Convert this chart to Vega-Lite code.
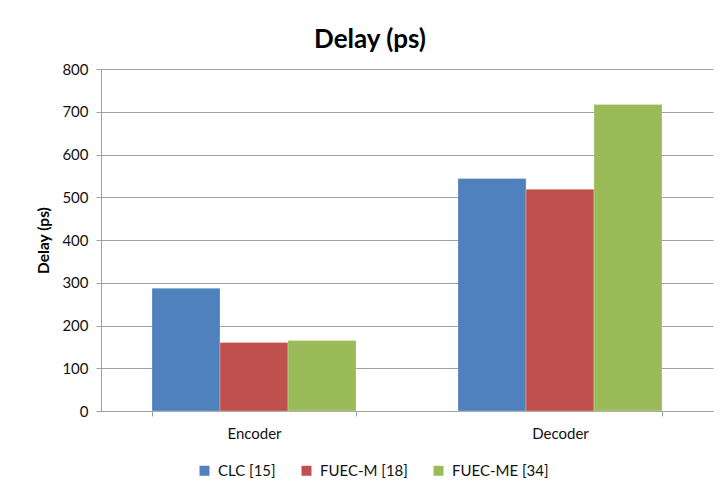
{
  "$schema": "https://vega.github.io/schema/vega-lite/v6.json",
  "width": 612,
  "height": 342,
  "autosize": {"type": "none"},
  "padding": {"left": 101, "top": 69, "right": 6, "bottom": 81},
  "background": "#ffffff",
  "title": {
    "text": "Delay (ps)",
    "anchor": "middle",
    "frame": "group",
    "dx": -37,
    "dy": 38,
    "offset": 26,
    "baseline": "alphabetic",
    "font": "Lato",
    "fontSize": 26,
    "fontWeight": "bold",
    "color": "#000000"
  },
  "data": {
    "values": [
      {"stage": "Encoder", "scheme": "CLC [15]", "delay": 287},
      {"stage": "Encoder", "scheme": "FUEC-M [18]", "delay": 160},
      {"stage": "Encoder", "scheme": "FUEC-ME [34]", "delay": 165},
      {"stage": "Decoder", "scheme": "CLC [15]", "delay": 544},
      {"stage": "Decoder", "scheme": "FUEC-M [18]", "delay": 519},
      {"stage": "Decoder", "scheme": "FUEC-ME [34]", "delay": 717}
    ]
  },
  "mark": {"type": "bar", "stroke": "#ffffff", "strokeOpacity": 0.25, "strokeWidth": 1},
  "encoding": {
    "x": {
      "field": "stage",
      "type": "nominal",
      "sort": ["Encoder", "Decoder"],
      "scale": {"paddingInner": 0.3333, "paddingOuter": 0.1667},
      "axis": {
        "title": null,
        "labelAngle": 0,
        "labelFont": "Lato",
        "labelFontSize": 15,
        "labelColor": "#111111",
        "labelPadding": 10,
        "tickBand": "extent",
        "tickSize": 5,
        "tickColor": "#a0a0a0",
        "domainColor": "#a0a0a0",
        "grid": false
      }
    },
    "xOffset": {
      "field": "scheme",
      "type": "nominal",
      "sort": ["CLC [15]", "FUEC-M [18]", "FUEC-ME [34]"],
      "scale": {"paddingInner": 0, "paddingOuter": 0}
    },
    "y": {
      "field": "delay",
      "type": "quantitative",
      "scale": {"domain": [0, 800], "nice": false},
      "axis": {
        "title": "Delay (ps)",
        "titleFont": "Lato",
        "titleFontSize": 15.5,
        "titleFontWeight": "bold",
        "titleColor": "#000000",
        "titlePadding": 10,
        "values": [0, 100, 200, 300, 400, 500, 600, 700, 800],
        "labelFont": "Lato",
        "labelFontSize": 15,
        "labelColor": "#111111",
        "labelPadding": 8,
        "tickSize": 5,
        "tickColor": "#a0a0a0",
        "domainColor": "#a0a0a0",
        "gridColor": "#a0a0a0",
        "gridWidth": 1.2
      }
    },
    "color": {
      "field": "scheme",
      "type": "nominal",
      "sort": ["CLC [15]", "FUEC-M [18]", "FUEC-ME [34]"],
      "scale": {
        "domain": ["CLC [15]", "FUEC-M [18]", "FUEC-ME [34]"],
        "range": ["#4f81bd", "#c0504d", "#9bbb59"]
      },
      "legend": {
        "title": null,
        "orient": "none",
        "direction": "horizontal",
        "legendX": 96,
        "legendY": 394,
        "symbolType": "square",
        "symbolSize": 100,
        "symbolStrokeWidth": 0,
        "labelFont": "Lato",
        "labelFontSize": 15,
        "labelColor": "#111111",
        "labelOffset": 6,
        "columnPadding": 23
      }
    }
  },
  "config": {
    "view": {"stroke": null}
  }
}
